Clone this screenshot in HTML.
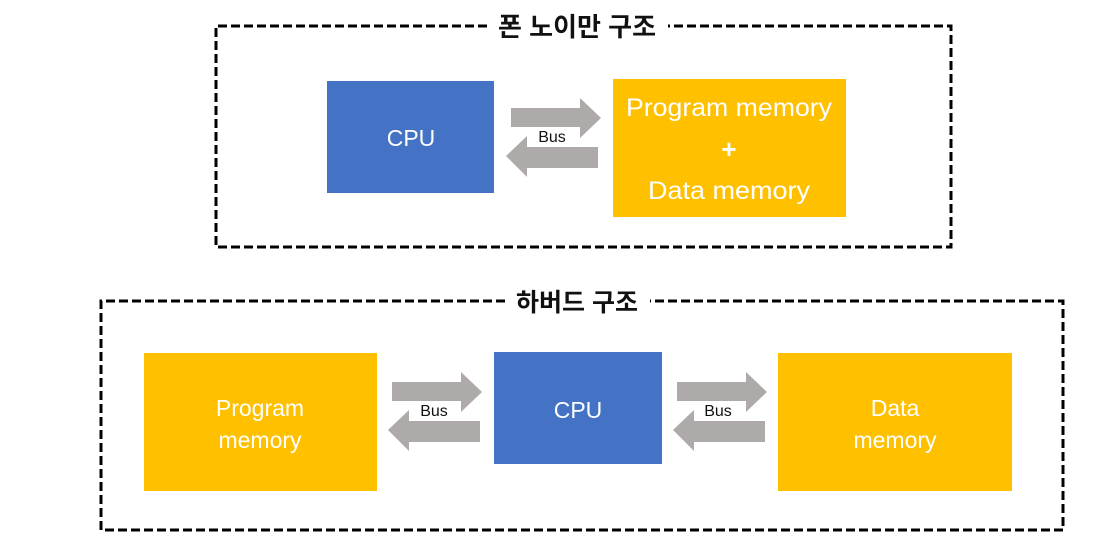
<!DOCTYPE html>
<html><head><meta charset="utf-8"><style>
body{margin:0;background:#fff;width:1101px;height:551px;overflow:hidden}
svg text{font-family:"Liberation Sans","Noto Sans CJK KR",sans-serif}
</style></head><body>
<svg width="1101" height="551" xmlns="http://www.w3.org/2000/svg">
<defs>
<g id="ra"><polygon points="0,10 69,10 69,0 90,20 69,40 69,29 0,29" fill="#AEAAAA"/></g>
<g id="la"><polygon points="92,11 21,11 21,0 0,20 21,41 21,32 92,32" fill="#AEAAAA"/></g>
</defs>
<!-- top box -->
<path d="M487,26 H216 V247 H951 V26 H668" fill="none" stroke="#000" stroke-width="3" stroke-dasharray="9,4"/>
<text x="577" y="36" font-size="26" font-weight="bold" text-anchor="middle" fill="#111">폰 노이만 구조</text>
<rect x="327" y="81" width="167" height="112" fill="#4472C4"/>
<text x="411" y="146" font-size="23" fill="#fff" text-anchor="middle">CPU</text>
<rect x="613" y="79" width="233" height="138" fill="#FFC000"/>
<text x="729" y="116" font-size="25" fill="#fff" text-anchor="middle" textLength="206" lengthAdjust="spacingAndGlyphs">Program memory</text>
<text x="729" y="158" font-size="26" font-weight="bold" fill="#fff" text-anchor="middle">+</text>
<text x="729" y="199" font-size="25" fill="#fff" text-anchor="middle" textLength="162" lengthAdjust="spacingAndGlyphs">Data memory</text>
<use href="#ra" x="511" y="98"/>
<use href="#la" x="506" y="136"/>
<text x="552" y="142" font-size="16" fill="#111" text-anchor="middle">Bus</text>
<!-- bottom box -->
<path d="M505,301 H101 V530 H1063 V301 H650" fill="none" stroke="#000" stroke-width="3" stroke-dasharray="9,4"/>
<text x="577" y="311" font-size="25" font-weight="bold" text-anchor="middle" fill="#111">하버드 구조</text>
<rect x="144" y="353" width="233" height="138" fill="#FFC000"/>
<text x="260" y="416" font-size="23" fill="#fff" text-anchor="middle">Program</text>
<text x="260" y="448" font-size="23" fill="#fff" text-anchor="middle">memory</text>
<rect x="494" y="352" width="168" height="112" fill="#4472C4"/>
<text x="578" y="418" font-size="23" fill="#fff" text-anchor="middle">CPU</text>
<rect x="778" y="353" width="234" height="138" fill="#FFC000"/>
<text x="895" y="416" font-size="23" fill="#fff" text-anchor="middle">Data</text>
<text x="895" y="448" font-size="23" fill="#fff" text-anchor="middle">memory</text>
<use href="#ra" x="392" y="372"/>
<use href="#la" x="388" y="410"/>
<text x="434" y="416" font-size="16" fill="#111" text-anchor="middle">Bus</text>
<use href="#ra" x="677" y="372"/>
<use href="#la" x="673" y="410"/>
<text x="718" y="416" font-size="16" fill="#111" text-anchor="middle">Bus</text>
</svg>
</body></html>
